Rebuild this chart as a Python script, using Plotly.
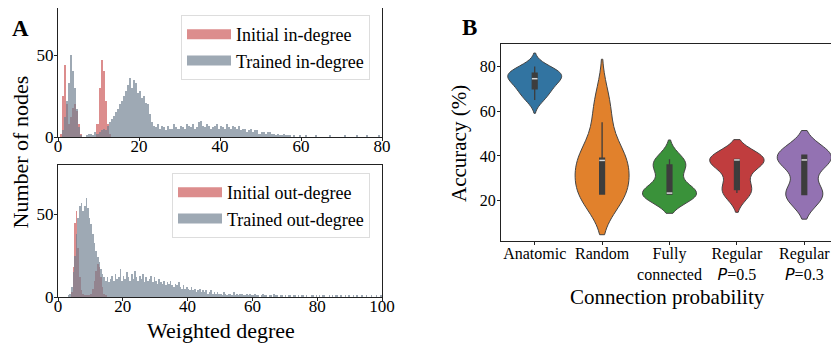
import numpy as np
import plotly.graph_objects as go

# ---------------- data ----------------
BIN_WIDTH = 0.5

# In-degree histograms (bins of 0.5 from 0 to 80)
in_initial = [
    0, 2, 25, 44, 20, 8, 12, 18, 20, 16,          # 0-5
    8, 2, 0, 0, 0, 0, 0, 0, 0, 8,                  # 5-10
    30, 47, 40, 22, 8, 2, 0, 0, 0, 0,              # 10-15
] + [0] * 130

in_trained = [
    0, 0, 4, 12, 22, 33, 50, 40, 30, 17,           # 0-5
    6, 1, 0, 0, 1, 2, 2, 1, 3, 2,                  # 5-10
    3, 4, 5, 4, 7, 9, 11, 13, 15, 17,              # 10-15
    20, 22, 25, 28, 32, 36, 30, 35, 33, 27,        # 15-20
    28, 24, 25, 21, 20, 14, 9, 7, 6, 8,            # 20-25
    5, 7, 6, 4, 7, 5, 5, 8, 6, 5,                  # 25-30
    7, 6, 5, 8, 7, 6, 8, 5, 6, 9,                  # 30-35
    10, 7, 6, 8, 7, 5, 6, 7, 8, 5,                 # 35-40
    7, 6, 5, 8, 6, 5, 7, 6, 5, 7,                  # 40-45
    4, 5, 5, 3, 4, 5, 3, 4, 4, 2,                  # 45-50
    3, 3, 2, 3, 3, 2, 2, 1, 2, 1,                  # 50-55
    1, 2, 1, 1, 1, 0, 1, 0, 0, 1,                  # 55-60
    0, 0, 1, 0, 0, 0, 0, 1, 0, 0,                  # 60-65
    0, 0, 0, 0, 1, 0, 0, 0, 0, 0,                  # 65-70
    0, 1, 0, 0, 0, 0, 0, 1, 0, 0,                  # 70-75
    0, 0, 1, 0, 0, 0, 0, 0, 1, 0,                  # 75-80
]

# Out-degree histograms (bins of 0.5 from 0 to 100)
out_initial = [
    0, 0, 0, 0, 0, 0, 0, 0, 3, 18,                 # 0-5
    45, 52, 30, 12, 4, 2, 1, 1, 1, 1,              # 5-10
    2, 5, 10, 16, 20, 18, 12, 6, 2, 1,             # 10-15
] + [0] * 170

out_trained = [
    0, 0, 0, 0, 0, 0, 1, 2, 6, 15,                 # 0-5
    25, 38, 48, 55, 57, 52, 55, 60, 54, 48,        # 5-10
    44, 38, 33, 28, 24, 21, 17, 14, 12, 10,        # 10-15
    12, 9, 11, 13, 10, 14, 11, 12, 17, 10,         # 15-20
    13, 11, 15, 12, 10, 14, 11, 16, 12, 10,        # 20-25
    13, 11, 14, 9, 12, 10, 11, 13, 9, 12,          # 25-30
    10, 8, 11, 9, 8, 10, 7, 9, 8, 10,              # 30-35
    7, 6, 8, 7, 9, 6, 5, 7, 5, 6,                  # 35-40
    5, 4, 6, 4, 5, 3, 4, 5, 3, 4,                  # 40-45
    3, 4, 2, 3, 4, 2, 3, 2, 3, 2,                  # 45-50
    2, 1, 3, 2, 1, 2, 2, 1, 3, 1,                  # 50-55
    2, 1, 2, 2, 1, 1, 2, 1, 2, 1,                  # 55-60
    1, 2, 1, 1, 0, 1, 2, 1, 1, 0,                  # 60-65
    1, 1, 0, 2, 1, 1, 0, 1, 1, 0,                  # 65-70
    1, 0, 1, 1, 0, 1, 1, 0, 1, 0,                  # 70-75
    1, 1, 0, 1, 0, 0, 1, 1, 0, 1,                  # 75-80
    0, 1, 0, 1, 1, 0, 0, 1, 0, 1,                  # 80-85
    0, 1, 1, 0, 1, 0, 0, 1, 0, 1,                  # 85-90
    0, 0, 1, 0, 1, 0, 0, 1, 0, 0,                  # 90-95
    1, 0, 0, 1, 0, 0, 1, 0, 0, 1,                  # 95-100
]

# Accuracy (%) samples per connection type
categories = ["Anatomic", "Random", "Fully connected", "Regular P=0.5", "Regular P=0.3"]
tick_labels = [
    "Anatomic",
    "Random",
    "Fully<br>connected",
    "Regular<br><span style='font-family:DejaVu Sans'><i>P</i></span>=0.5",
    "Regular<br><span style='font-family:DejaVu Sans'><i>P</i></span>=0.3",
]
acc_anatomic = [65, 68, 70, 72, 74, 75, 76, 77, 78, 80]
acc_random = [23, 23, 23, 24, 38, 38, 38, 39, 55, 65]
acc_fully = [23, 23, 23, 23, 23.2, 23.6, 33, 36, 37, 38.5]
acc_reg05 = [23.4, 24, 25, 30.6, 38, 38.4, 38.4, 38.4, 38.5, 38.7]
acc_reg03 = [22.7, 22.7, 22.7, 23, 38, 38.4, 39.5, 40.3, 40.4, 40.4]
accuracy = [acc_anatomic, acc_random, acc_fully, acc_reg05, acc_reg03]

# ---------------- styles ----------------
SERIF = "Liberation Serif"
RED = "rgba(205,92,92,0.7)"
GRAY = "rgba(112,128,144,0.68)"
violin_colors = ["#3274a1", "#e1812c", "#3a923a", "#c03d3e", "#9372b2"]
OFF = 8  # page body margin
W, H = 839 - OFF, 343 - OFF


def px_x(p):
    return min(1.0, max(0.0, (p - OFF) / W))


def px_y(p):
    return min(1.0, max(0.0, 1 - (p - OFF) / H))


fig = go.Figure()


def add_hist(values, color, xa, ya):
    v = np.asarray(values, dtype=float)
    centers = (np.arange(len(v)) + 0.5) * BIN_WIDTH
    fig.add_trace(go.Bar(x=centers, y=v, width=BIN_WIDTH, marker=dict(color=color, line=dict(width=0)),
                         showlegend=False, xaxis=xa, yaxis=ya, hoverinfo="skip"))


add_hist(in_initial, RED, "x", "y")
add_hist(in_trained, GRAY, "x", "y")
add_hist(out_initial, RED, "x2", "y2")
add_hist(out_trained, GRAY, "x2", "y2")

# legend entries
for name, color, xa, ya, lg in [
    ("Initial in-degree", RED, "x", "y", "legend"),
    ("Trained in-degree", GRAY, "x", "y", "legend"),
    ("Initial out-degree", RED, "x2", "y2", "legend2"),
    ("Trained out-degree", GRAY, "x2", "y2", "legend2"),
]:
    fig.add_trace(go.Scatter(x=[None], y=[None], mode="lines", name=name,
                             line=dict(color=color, width=13), xaxis=xa, yaxis=ya, legend=lg))

# violins
for cat, samples, color in zip(categories, accuracy, violin_colors):
    s = np.asarray(samples, dtype=float)
    bw = s.std(ddof=1) * len(s) ** (-0.2)
    fig.add_trace(go.Violin(
        x=[cat] * len(s), y=s, xaxis="x3", yaxis="y3",
        fillcolor=color, line=dict(color="#444444", width=1), opacity=1,
        bandwidth=bw, scalemode="width", width=0.8, spanmode="soft",
        points="outliers", marker=dict(opacity=0, size=1),
        box=dict(visible=True, width=0.09, fillcolor="#3d3d3d", line=dict(color="#3d3d3d", width=1.3)),
        meanline=dict(visible=False), showlegend=False, hoverinfo="skip",
    ))
    fig.add_trace(go.Scatter(
        x=[cat], y=[float(np.median(s))], mode="markers", xaxis="x3", yaxis="y3",
        marker=dict(symbol="line-ew", size=4, line=dict(color="#d8d8d8", width=1.5)),
        showlegend=False, hoverinfo="skip",
    ))

axis_common = dict(showline=True, linecolor="#222222", linewidth=1, mirror=True, ticks="outside",
                   ticklen=3, tickcolor="#222222", showgrid=False, zeroline=False, automargin=False)
hist_tick = dict(family=SERIF, size=17, color="black")
vio_tick = dict(family=SERIF, size=16, color="black")


def ann(text, x, y, size, angle=0):
    return dict(text=text, x=px_x(x), y=px_y(y), xref="paper", yref="paper", showarrow=False,
                xanchor="center", yanchor="middle", textangle=angle,
                font=dict(family=SERIF, size=size, color="black"))


fig.update_layout(
    template="none",
    width=W, height=H, margin=dict(l=0, r=0, t=0, b=0, pad=0), autosize=False,
    paper_bgcolor="white", plot_bgcolor="white",
    barmode="overlay", bargap=0,
    font=dict(family=SERIF, color="black"),
    xaxis=dict(domain=[px_x(58), px_x(382)], range=[0, 80], tickvals=[0, 20, 40, 60, 80],
               anchor="y", tickfont=hist_tick, ticklabelstandoff=-9, **axis_common),
    yaxis=dict(domain=[px_y(137), px_y(8)], range=[0, 78.7], tickvals=[0, 50], anchor="x",
               tickfont=hist_tick, ticklabelstandoff=-3, **axis_common),
    xaxis2=dict(domain=[px_x(58), px_x(382)], range=[0, 100], tickvals=[0, 20, 40, 60, 80, 100],
                anchor="y2", tickfont=hist_tick, ticklabelstandoff=-9, **axis_common),
    yaxis2=dict(domain=[px_y(297), px_y(165)], range=[0, 80], tickvals=[0, 50], anchor="x2",
                tickfont=hist_tick, ticklabelstandoff=-3, **axis_common),
    xaxis3=dict(domain=[px_x(501), px_x(838)], range=[-0.5, 4.5], type="category",
                categoryorder="array", categoryarray=categories,
                tickvals=categories, ticktext=tick_labels, anchor="y3", tickfont=vio_tick,
                ticklabelstandoff=-5, **axis_common),
    yaxis3=dict(domain=[px_y(241), px_y(44)], range=[2, 90], tickvals=[20, 40, 60, 80], anchor="x3",
                tickfont=vio_tick, ticklabelstandoff=-2, **axis_common),
    legend=dict(x=px_x(181), y=px_y(15), xanchor="left", yanchor="top", bgcolor="rgba(255,255,255,0.8)",
                bordercolor="#dddddd", borderwidth=1, font=dict(family=SERIF, size=18), itemwidth=44),
    legend2=dict(x=px_x(172), y=px_y(173), xanchor="left", yanchor="top", bgcolor="rgba(255,255,255,0.8)",
                 bordercolor="#dddddd", borderwidth=1, font=dict(family=SERIF, size=18), itemwidth=44),
    annotations=[
        ann("<b>A</b>", 20, 29, 23),
        ann("<b>B</b>", 469, 27, 23),
        ann("Number of nodes", 19.5, 152, 22, -90),
        ann("Weighted degree", 221, 330, 22),
        ann("Accuracy (%)", 459, 144, 21, -90),
        ann("Connection probability", 667, 297, 21),
    ],
)

fig.write_html("out.html")
